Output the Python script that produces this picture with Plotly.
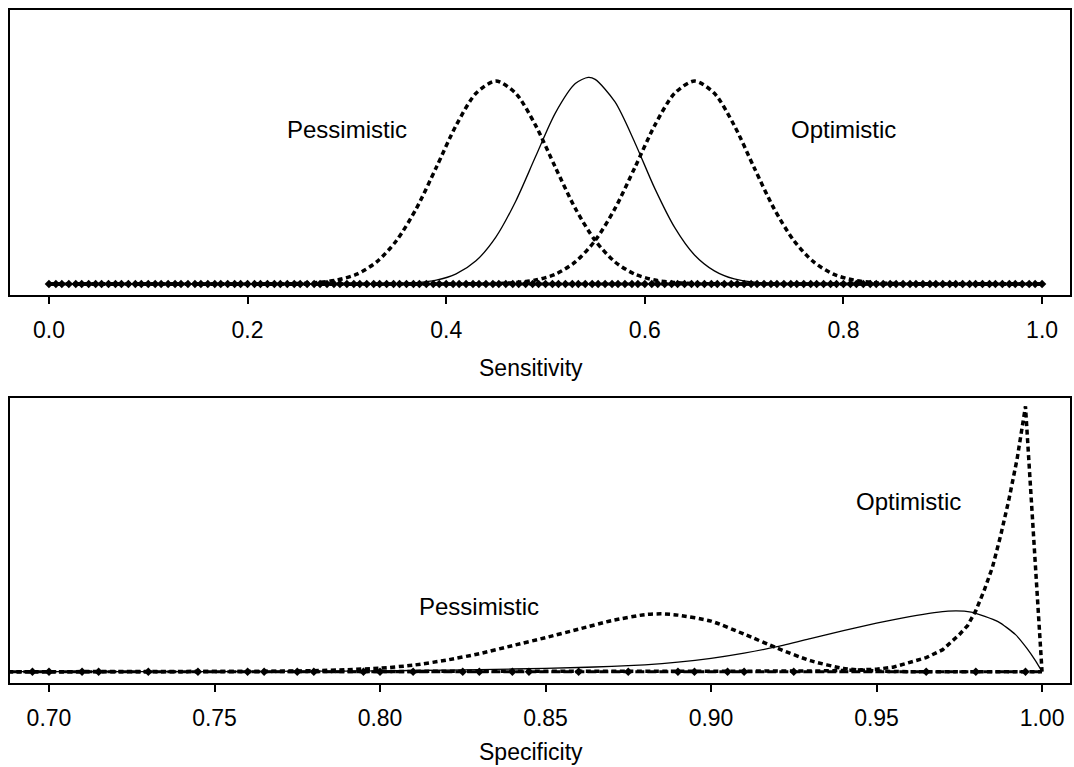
import plotly.graph_objects as go

# ---------------- Top panel: Sensitivity ----------------
sens_pess_x = [0.0, 0.25, 0.27, 0.29, 0.31, 0.33, 0.35, 0.37, 0.39, 0.41, 0.43, 0.45,
               0.47, 0.49, 0.51, 0.53, 0.55, 0.57, 0.59, 0.61, 0.63, 0.65, 1.0]
sens_pess_y = [0.0, 0.016, 0.05, 0.14, 0.35, 0.79, 1.56, 2.71, 4.18, 5.69, 6.84, 7.28,
               6.84, 5.69, 4.18, 2.71, 1.56, 0.79, 0.35, 0.14, 0.05, 0.016, 0.0]

sens_mid_x = [0.0, 0.35, 0.37, 0.39, 0.41, 0.43, 0.45, 0.47, 0.49, 0.51, 0.53, 0.543, 0.55,
              0.57, 0.59, 0.61, 0.63, 0.65, 0.67, 0.69, 0.71, 0.73, 0.75, 1.0]
sens_mid_y = [0.0, 0.013, 0.044, 0.134, 0.36, 0.83, 1.68, 2.97, 4.57, 6.14, 7.19, 7.41, 7.34,
              6.53, 5.07, 3.43, 2.03, 1.04, 0.47, 0.18, 0.063, 0.019, 0.005, 0.0]

sens_opt_x = [0.0, 0.45, 0.47, 0.49, 0.51, 0.53, 0.55, 0.57, 0.59, 0.61, 0.63, 0.65,
              0.67, 0.69, 0.71, 0.73, 0.75, 0.77, 0.79, 0.81, 0.83, 0.85, 1.0]
sens_opt_y = [0.0, 0.016, 0.05, 0.14, 0.35, 0.79, 1.56, 2.71, 4.18, 5.69, 6.84, 7.28,
              6.84, 5.69, 4.18, 2.71, 1.56, 0.79, 0.35, 0.14, 0.05, 0.016, 0.0]

sens_base_x = [
    0.000, 0.007, 0.013, 0.020, 0.027, 0.033, 0.040, 0.047, 0.053, 0.060, 0.067, 0.073, 0.080, 0.087, 0.093,
    0.100, 0.107, 0.113, 0.120, 0.127, 0.133, 0.140, 0.147, 0.153, 0.160, 0.167, 0.173, 0.180, 0.187, 0.193,
    0.200, 0.207, 0.213, 0.220, 0.227, 0.233, 0.240, 0.247, 0.253, 0.260, 0.267, 0.273, 0.280, 0.287, 0.293,
    0.300, 0.307, 0.313, 0.320, 0.327, 0.333, 0.340, 0.347, 0.353, 0.360, 0.367, 0.373, 0.380, 0.387, 0.393,
    0.400, 0.407, 0.413, 0.420, 0.427, 0.433, 0.440, 0.447, 0.453, 0.460, 0.467, 0.473, 0.480, 0.487, 0.493,
    0.500, 0.507, 0.513, 0.520, 0.527, 0.533, 0.540, 0.547, 0.553, 0.560, 0.567, 0.573, 0.580, 0.587, 0.593,
    0.600, 0.607, 0.613, 0.620, 0.627, 0.633, 0.640, 0.647, 0.653, 0.660, 0.667, 0.673, 0.680, 0.687, 0.693,
    0.700, 0.707, 0.713, 0.720, 0.727, 0.733, 0.740, 0.747, 0.753, 0.760, 0.767, 0.773, 0.780, 0.787, 0.793,
    0.800, 0.807, 0.813, 0.820, 0.827, 0.833, 0.840, 0.847, 0.853, 0.860, 0.867, 0.873, 0.880, 0.887, 0.893,
    0.900, 0.907, 0.913, 0.920, 0.927, 0.933, 0.940, 0.947, 0.953, 0.960, 0.967, 0.973, 0.980, 0.987, 0.993,
    1.000]
sens_ticks = [0.0, 0.2, 0.4, 0.6, 0.8, 1.0]

# ---------------- Bottom panel: Specificity ----------------
spec_pess_x = [0.685, 0.74, 0.76, 0.78, 0.79, 0.80, 0.81, 0.82, 0.83, 0.84, 0.85, 0.86, 0.87,
               0.88, 0.885, 0.89, 0.90, 0.91, 0.92, 0.93, 0.94, 0.95, 0.96, 1.0]
spec_pess_y = [0.0, 0.01, 0.04, 0.2, 0.4, 0.7, 1.3, 2.3, 3.6, 5.2, 6.8, 8.5, 10.2,
               11.4, 11.55, 11.3, 10.1, 7.5, 4.7, 2.2, 0.66, 0.14, 0.0, 0.0]

spec_mid_x = [0.685, 0.75, 0.78, 0.80, 0.82, 0.84, 0.86, 0.87, 0.88, 0.89, 0.90, 0.91, 0.92,
              0.93, 0.94, 0.95, 0.96, 0.9716, 0.9786, 0.9867, 0.992, 0.9955, 0.998, 1.0]
spec_mid_y = [0.0, 0.03, 0.1, 0.16, 0.32, 0.54, 0.84, 1.06, 1.38, 1.9, 2.66, 3.7, 5.0,
              6.6, 8.2, 9.7, 11.0, 12.1, 11.9, 10.0, 7.4, 4.6, 2.2, 0.0]

spec_opt_x = [0.685, 0.90, 0.92, 0.93, 0.94, 0.95, 0.955, 0.96, 0.965, 0.97, 0.975, 0.9775,
              0.98, 0.9825, 0.985, 0.9875, 0.99, 0.9925, 0.995, 1.0]
spec_opt_y = [0.0, 0.0, 0.04, 0.12, 0.24, 0.5, 0.9, 1.8, 2.8, 4.4, 7.4, 9.2,
              12.2, 16.2, 20.8, 27.2, 34.4, 42.6, 53.0, 0.0]

spec_base_line_x = [0.685, 1.0]
spec_base_x = [0.695, 0.70, 0.71, 0.715, 0.73, 0.745, 0.76, 0.765, 0.775, 0.78, 0.795, 0.80,
               0.81, 0.825, 0.83, 0.84, 0.845, 0.86, 0.875, 0.89, 0.895, 0.905, 0.91, 0.925,
               0.965, 0.98, 0.995]
spec_ticks = [0.70, 0.75, 0.80, 0.85, 0.90, 0.95, 1.00]

FONT = "Liberation Sans, Arial, Helvetica, sans-serif"
DASH = "5px,3.5px"
BASE_DASH = "9px,3px"

fig = go.Figure()

# top panel
fig.add_trace(go.Scatter(x=[0.0, 1.0], y=[0, 0], mode="lines",
                         line=dict(color="black", width=3, dash=BASE_DASH),
                         xaxis="x", yaxis="y", showlegend=False, hoverinfo="skip"))
fig.add_trace(go.Scatter(x=sens_base_x, y=[0] * len(sens_base_x), mode="markers",
                         marker=dict(symbol="diamond", size=6.5, color="black"),
                         xaxis="x", yaxis="y", showlegend=False, hoverinfo="skip"))
fig.add_trace(go.Scatter(x=sens_pess_x, y=sens_pess_y, mode="lines",
                         line=dict(color="black", width=3.5, dash=DASH, shape="spline", smoothing=0.8),
                         xaxis="x", yaxis="y", showlegend=False))
fig.add_trace(go.Scatter(x=sens_mid_x, y=sens_mid_y, mode="lines",
                         line=dict(color="black", width=1.3, shape="spline", smoothing=0.8),
                         xaxis="x", yaxis="y", showlegend=False))
fig.add_trace(go.Scatter(x=sens_opt_x, y=sens_opt_y, mode="lines",
                         line=dict(color="black", width=3.5, dash=DASH, shape="spline", smoothing=0.8),
                         xaxis="x", yaxis="y", showlegend=False))

# bottom panel
fig.add_trace(go.Scatter(x=spec_base_line_x, y=[0, 0], mode="lines",
                         line=dict(color="black", width=3, dash=BASE_DASH),
                         xaxis="x2", yaxis="y2", showlegend=False, hoverinfo="skip"))
fig.add_trace(go.Scatter(x=spec_base_x, y=[0] * len(spec_base_x), mode="markers",
                         marker=dict(symbol="diamond", size=6.5, color="black"),
                         xaxis="x2", yaxis="y2", showlegend=False, hoverinfo="skip"))
fig.add_trace(go.Scatter(x=spec_pess_x, y=spec_pess_y, mode="lines",
                         line=dict(color="black", width=3.5, dash=DASH, shape="spline", smoothing=0.6),
                         xaxis="x2", yaxis="y2", showlegend=False))
fig.add_trace(go.Scatter(x=spec_mid_x, y=spec_mid_y, mode="lines",
                         line=dict(color="black", width=1.3, shape="spline", smoothing=0.6),
                         xaxis="x2", yaxis="y2", showlegend=False))
fig.add_trace(go.Scatter(x=spec_opt_x, y=spec_opt_y, mode="lines",
                         line=dict(color="black", width=3.5, dash=DASH),
                         xaxis="x2", yaxis="y2", showlegend=False))

axis_common = dict(showline=True, linecolor="black", linewidth=1.5, mirror=True,
                   showgrid=False, zeroline=False)

fig.update_layout(
    width=1074, height=767,
    margin=dict(l=10, r=2, t=10, b=84),
    paper_bgcolor="white", plot_bgcolor="white",
    font=dict(family=FONT, color="black", size=23),
    xaxis=dict(domain=[0, 1], anchor="y", range=[-0.0392, 1.0281],
               tickvals=sens_ticks, tickformat=".1f", ticks="outside", ticklen=7,
               tickwidth=1.5, tickcolor="black", ticklabelstandoff=7,
               tickfont=dict(size=23, family=FONT), **axis_common),
    yaxis=dict(domain=[0.5765, 1.0], anchor="x", range=[-0.396, 9.83],
               showticklabels=False, ticks="", **axis_common),
    xaxis2=dict(domain=[0, 1], anchor="y2", range=[0.68822, 1.00845],
                tickvals=spec_ticks, tickformat=".2f", ticks="outside", ticklen=7,
                tickwidth=1.5, tickcolor="black", ticklabelstandoff=7,
                tickfont=dict(size=23, family=FONT), **axis_common),
    yaxis2=dict(domain=[0.0, 0.4235], anchor="x2", range=[-2.26, 54.68],
                showticklabels=False, ticks="", **axis_common),
    annotations=[
        dict(x=0.3005, y=5.54, xref="x", yref="y", text="Pessimistic", showarrow=False,
             font=dict(size=24, family=FONT), xanchor="center", yanchor="middle"),
        dict(x=0.80, y=5.54, xref="x", yref="y", text="Optimistic", showarrow=False,
             font=dict(size=24, family=FONT), xanchor="center", yanchor="middle"),
        dict(x=0.830, y=13.1, xref="x2", yref="y2", text="Pessimistic", showarrow=False,
             font=dict(size=24, family=FONT), xanchor="center", yanchor="middle"),
        dict(x=0.9598, y=34.0, xref="x2", yref="y2", text="Optimistic", showarrow=False,
             font=dict(size=24, family=FONT), xanchor="center", yanchor="middle"),
        dict(x=0.4915, y=0.468, xref="paper", yref="paper", text="Sensitivity", showarrow=False,
             font=dict(size=23, family=FONT), xanchor="center", yanchor="middle"),
        dict(x=0.4915, y=-0.1025, xref="paper", yref="paper", text="Specificity", showarrow=False,
             font=dict(size=23, family=FONT), xanchor="center", yanchor="middle"),
    ],
)

fig.write_html(
    "out.html",
    config={"displayModeBar": False},
    post_script="document.body.style.margin='0';document.body.style.padding='0';"
                "document.documentElement.style.overflow='hidden';",
)
